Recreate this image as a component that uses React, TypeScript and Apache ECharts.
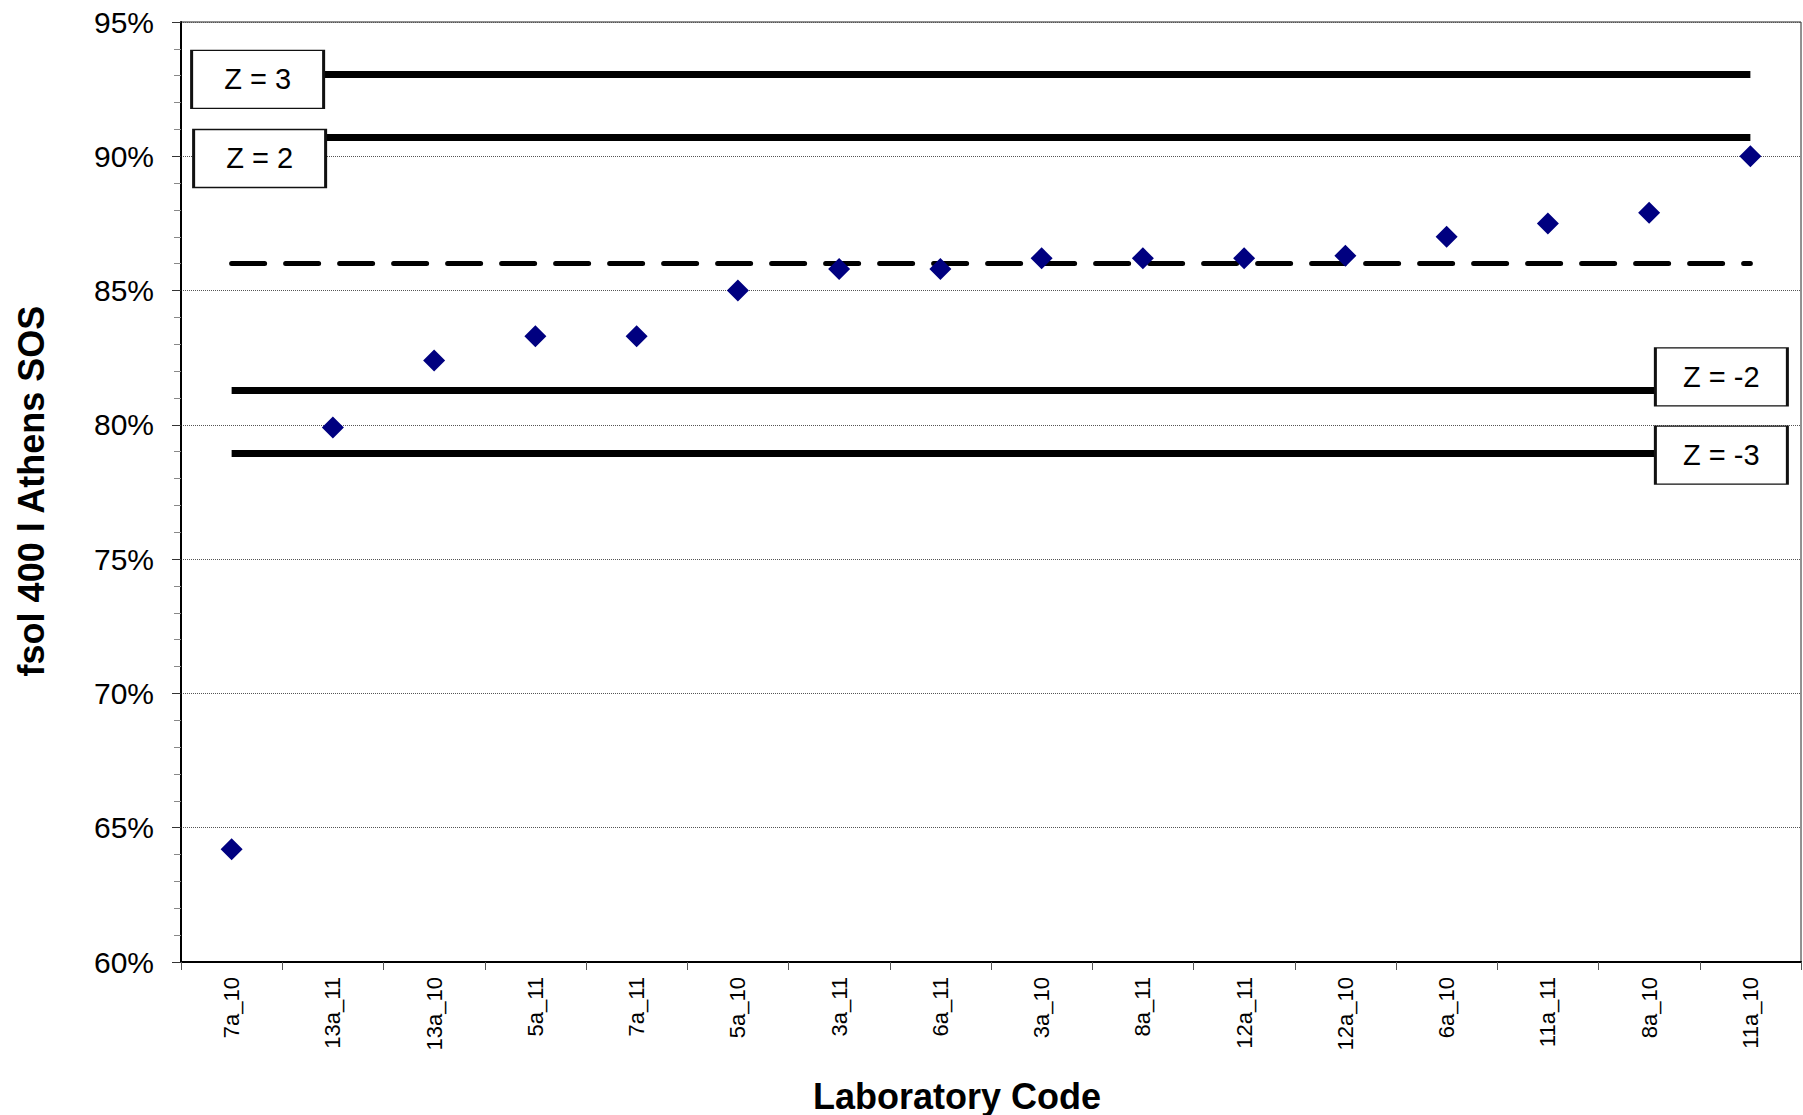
import React, { useEffect, useRef } from "react";
import * as echarts from "echarts";

const categories = [
  "7a_10", "13a_11", "13a_10", "5a_11", "7a_11", "5a_10", "3a_11", "6a_11",
  "3a_10", "8a_11", "12a_11", "12a_10", "6a_10", "11a_11", "8a_10", "11a_10",
];
const values = [
  64.2, 79.9, 82.4, 83.3, 83.3, 85.0, 85.8, 85.8,
  86.2, 86.2, 86.2, 86.3, 87.0, 87.5, 87.9, 90.0,
];
const meanValue = 86.0;
const zLevels = [
  { name: "Z = 3", value: 93.05 },
  { name: "Z = 2", value: 90.7 },
  { name: "Z = -2", value: 81.3 },
  { name: "Z = -3", value: 78.95 },
];
const yTicks = { min: 60, max: 95, step: 5 };

const FONT = "'Liberation Sans', Arial, sans-serif";

export default function App() {
  const ref = useRef<HTMLDivElement>(null);

  useEffect(() => {
    document.body.style.margin = "0";
    if (!ref.current) return;
    const chart = echarts.init(ref.current, null, { renderer: "svg" });
    const last = categories.length - 1;

    const labelOffsets: Record<string, { idx: number; off: [number, number] }> = {
      "Z = 3": { idx: 0, off: [26, 5] },
      "Z = 2": { idx: 0, off: [28, 21] },
      "Z = -2": { idx: last, off: [-29, -13] },
      "Z = -3": { idx: last, off: [-29, 2] },
    };

    const option: any = {
      animation: false,
      backgroundColor: "#fff",
      textStyle: { fontFamily: FONT },
      grid: {
        left: 181,
        right: 2,
        top: 22,
        bottom: 153,
        show: true,
        borderColor: "#222",
        borderWidth: 1,
      },
      xAxis: {
        type: "category",
        data: categories,
        boundaryGap: true,
        axisLine: { lineStyle: { color: "#000", width: 2 } },
        axisTick: { show: true, alignWithLabel: false, length: 8, lineStyle: { color: "#555" } },
        axisLabel: {
          rotate: 90,
          interval: 0,
          margin: 15,
          fontSize: 22,
          color: "#000",
          fontFamily: FONT,
        },
        splitLine: { show: false },
      },
      yAxis: {
        type: "value",
        min: yTicks.min,
        max: yTicks.max,
        interval: yTicks.step,
        axisLine: { show: true, lineStyle: { color: "#000", width: 2 } },
        axisTick: { show: true, length: 9, lineStyle: { color: "#333" } },
        minorTick: { show: true, splitNumber: 5, length: 7, lineStyle: { color: "#888" } },
        axisLabel: {
          formatter: (v: number) => `${v}%`,
          fontSize: 30,
          color: "#000",
          margin: 27,
          fontFamily: FONT,
        },
        splitLine: { show: true, lineStyle: { color: "#555", type: "dotted", width: 1 } },
      },
      graphic: [
        {
          type: "text",
          x: 957,
          y: 1096,
          style: {
            text: "Laboratory Code",
            font: `bold 36px ${FONT}`,
            fill: "#000",
            align: "center",
            verticalAlign: "middle",
          },
        },
        {
          type: "text",
          x: 31,
          y: 491,
          rotation: Math.PI / 2,
          style: {
            text: "fsol 400 l Athens SOS",
            font: `bold 36px ${FONT}`,
            fill: "#000",
            align: "center",
            verticalAlign: "middle",
          },
        },
      ],
      series: [
        {
          type: "line",
          name: "limits",
          data: [],
          z: 1,
          markLine: {
            silent: true,
            symbol: "none",
            animation: false,
            label: { show: false },
            data: [
              ...zLevels.map((z) => [
                { coord: [0, z.value], lineStyle: { color: "#000", width: 7, type: "solid", cap: "butt" } },
                { coord: [last, z.value] },
              ]),
              [
                {
                  coord: [0, meanValue],
                  lineStyle: { color: "#000", width: 5, type: [33, 21], cap: "round" },
                },
                { coord: [last, meanValue] },
              ],
            ],
          },
          markPoint: {
            silent: true,
            animation: false,
            data: zLevels.map((z) => ({
              coord: [labelOffsets[z.name].idx, z.value],
              symbol: "rect",
              symbolSize: [132, 58],
              symbolOffset: labelOffsets[z.name].off,
              itemStyle: { color: "#fff", borderColor: "#111", borderWidth: 2 },
              label: {
                show: true,
                position: "inside",
                formatter: z.name,
                fontSize: 29,
                color: "#000",
                fontFamily: FONT,
              },
            })),
          },
        },
        {
          type: "scatter",
          name: "results",
          data: values,
          symbol: "diamond",
          symbolSize: 22,
          z: 10,
          itemStyle: { color: "#000080", opacity: 1 },
        },
      ],
    };

    chart.setOption(option);
    return () => chart.dispose();
  }, []);

  return <div ref={ref} style={{ width: 1803, height: 1115 }} />;
}
